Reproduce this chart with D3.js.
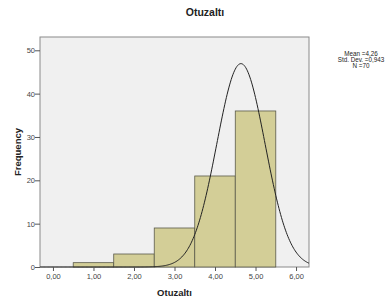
<!DOCTYPE html>
<html>
<head>
<meta charset="utf-8">
<script src="https://cdn.jsdelivr.net/npm/d3@7"></script>
<style>
  body { margin: 0; background: #fff; }
  text { font-family: Arial, "Liberation Sans", sans-serif; }
</style>
</head>
<body>
<svg id="chart"></svg>
<script>
// Histogram bins (Otuzalti), width 1
const binStarts = [0.5, 1.5, 2.5, 3.5, 4.5];
const binEnds = [1.5, 2.5, 3.5, 4.5, 5.5];
const counts = [1, 3, 9, 21, 36];

const xTicks = [0, 1, 2, 3, 4, 5, 6];
const yTicks = [0, 10, 20, 30, 40, 50];

// Stats box text
const statLines = ["Mean =4,26", "Std. Dev. =0,943", "N =70"];

// Normal curve as drawn in the picture
const curveMean = 4.64;
const curveSd = 0.595;
const curveN = 70;

const width = 385, height = 302;
const svg = d3.select("#chart")
  .attr("width", width)
  .attr("height", height);

const plot = {left: 40, right: 309, top: 37, bottom: 267};

const x = d3.scaleLinear()
  .domain([-0.32, 6.32])
  .range([plot.left, plot.right]);

const y = d3.scaleLinear()
  .domain([0, 50])
  .range([plot.bottom, 50.3]);

const fmt = d => d3.format(".2f")(d).replace(".", ",");

// Plot area background
svg.append("rect")
  .attr("x", plot.left)
  .attr("y", plot.top)
  .attr("width", plot.right - plot.left)
  .attr("height", plot.bottom - plot.top)
  .style("fill", "#f0f0f0")
  .style("stroke", "#8a8a8a")
  .style("stroke-width", 1);

// Bars
svg.append("g")
  .selectAll("rect")
  .data(counts)
  .enter()
  .append("rect")
    .attr("x", (d, i) => x(binStarts[i]))
    .attr("y", d => y(d))
    .attr("width", (d, i) => x(binEnds[i]) - x(binStarts[i]))
    .attr("height", d => y(0) - y(d))
    .style("fill", "#d3ce97")
    .style("stroke", "#5a5a4a")
    .style("stroke-width", 0.8);

// Normal curve
const k = curveN / (curveSd * Math.sqrt(2 * Math.PI));
const curvePts = d3.range(x.domain()[0], x.domain()[1] + 0.001, 0.02)
  .map(v => [v, k * Math.exp(-0.5 * Math.pow((v - curveMean) / curveSd, 2))]);

svg.append("path")
  .datum(curvePts)
  .attr("d", d3.line().x(d => x(d[0])).y(d => y(d[1])).curve(d3.curveBasis))
  .style("fill", "none")
  .style("stroke", "#222")
  .style("stroke-width", 1);

// Y axis
const yAxis = svg.append("g")
  .attr("transform", `translate(${plot.left},0)`)
  .call(d3.axisLeft(y).tickValues(yTicks).tickSize(5).tickFormat(d3.format("d")));
yAxis.select(".domain").remove();
yAxis.selectAll("line").style("stroke", "#555");
yAxis.selectAll("text")
  .attr("x", -5)
  .style("font-size", "7.5px")
  .style("fill", "#444");

// X axis
const xAxis = svg.append("g")
  .attr("transform", `translate(0,${plot.bottom})`)
  .call(d3.axisBottom(x).tickValues(xTicks).tickSize(4).tickFormat(fmt));
xAxis.select(".domain").remove();
xAxis.selectAll("line").style("stroke", "#555");
xAxis.selectAll("text")
  .attr("y", 7)
  .style("font-size", "7.5px")
  .style("fill", "#444");

// Title
svg.append("text")
  .attr("x", 205)
  .attr("y", 16)
  .attr("text-anchor", "middle")
  .style("font-size", "10.5px")
  .style("font-weight", "bold")
  .style("fill", "#222")
  .text("Otuzaltı");

// Axis titles
svg.append("text")
  .attr("x", (plot.left + plot.right) / 2)
  .attr("y", 296)
  .attr("text-anchor", "middle")
  .style("font-size", "9.5px")
  .style("font-weight", "bold")
  .style("fill", "#222")
  .text("Otuzaltı");

svg.append("text")
  .attr("transform", "translate(21,152) rotate(-90)")
  .attr("text-anchor", "middle")
  .style("font-size", "9.5px")
  .style("font-weight", "bold")
  .style("fill", "#222")
  .text("Frequency");

// Stats
svg.selectAll(".stat")
  .data(statLines)
  .enter()
  .append("text")
    .attr("class", "stat")
    .attr("x", 361)
    .attr("y", (d, i) => 56 + i * 6.2)
    .attr("text-anchor", "middle")
    .style("font-size", "6.3px")
    .style("fill", "#222")
    .text(d => d);
</script>
</body>
</html>
